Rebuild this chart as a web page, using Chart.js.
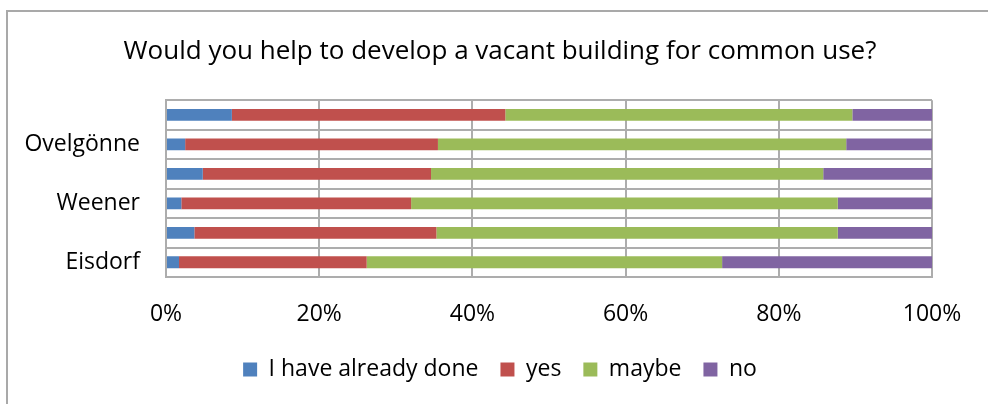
<!DOCTYPE html>
<html>
<head>
<meta charset="utf-8">
<script src="https://cdn.jsdelivr.net/npm/chart.js@4.4.1/dist/chart.umd.min.js"></script>
<style>
  html, body { margin: 0; padding: 0; background: #fff; }
  #wrap { position: relative; width: 988px; height: 404px; }
</style>
</head>
<body>
<div id="wrap"><canvas id="chart" width="988" height="404"></canvas></div>
<script>
// survey answers per town, percent of respondents (top row first)
const towns = ['', 'Ovelgönne', '', 'Weener', '', 'Eisdorf'];
const alreadyDone = [8.6, 2.5, 4.8, 2.0, 3.7, 1.7];
const yes = [35.7, 33.0, 29.8, 30.0, 31.6, 24.5];
const maybe = [45.3, 53.3, 51.2, 55.7, 52.4, 46.4];
const no = [10.4, 11.2, 14.2, 12.3, 12.3, 27.4];
const pctTicks = [0, 20, 40, 60, 80, 100];

const FONT = "'Open Sans', sans-serif";
const GRID = '#ADADAD';

// grey frame round the chart (left and top edges only are visible)
const frame = {
    id: 'frame',
    beforeDraw(chart) {
        const c = chart.ctx;
        c.save();
        c.strokeStyle = '#A9A9A9';
        c.lineWidth = 2;
        c.beginPath();
        c.moveTo(7, 404);
        c.lineTo(7, 11);
        c.lineTo(988, 11);
        c.stroke();
        c.restore();
    }
};

new Chart(document.getElementById('chart'), {
    type: 'bar',
    data: {
        labels: towns,
        datasets: [
            { label: 'I have already done', data: alreadyDone, backgroundColor: '#4F81BD' },
            { label: 'yes', data: yes, backgroundColor: '#C0504D' },
            { label: 'maybe', data: maybe, backgroundColor: '#9BBB59' },
            { label: 'no', data: no, backgroundColor: '#8064A2' }
        ]
    },
    options: {
        indexAxis: 'y',
        responsive: false,
        animation: false,
        barPercentage: 0.4,
        categoryPercentage: 1,
        layout: { padding: { left: 12, right: 0, top: 0, bottom: 13 } },
        scales: {
            x: {
                stacked: true,
                min: 0,
                max: 100,
                afterBuildTicks: s => { s.ticks = pctTicks.map(v => ({ value: v })); },
                afterFit: s => { s.height = 59; },
                grid: { color: GRID, lineWidth: 2, drawTicks: false },
                border: { color: GRID, width: 2 },
                ticks: {
                    padding: 24,
                    color: '#000',
                    font: { family: FONT, size: 23 },
                    callback: v => v + '%'
                }
            },
            y: {
                stacked: true,
                afterFit: s => { s.width = 154; },
                grid: { color: GRID, lineWidth: 2, drawTicks: false, offset: true },
                border: { color: GRID, width: 2 },
                ticks: {
                    autoSkip: false,
                    padding: 26,
                    color: '#000',
                    font: { family: FONT, size: 23 }
                }
            },
            // empty strip on the right so the plot stops short of the edge
            pad: {
                type: 'linear',
                position: 'right',
                afterFit: s => { s.width = 56; },
                grid: { display: false },
                border: { display: false },
                ticks: { display: false }
            }
        },
        plugins: {
            title: {
                display: true,
                text: 'Would you help to develop a vacant building for common use?',
                color: '#000',
                font: { family: FONT, size: 26, weight: 'normal', lineHeight: 1.2 },
                padding: { top: 36, bottom: 33 }
            },
            legend: {
                position: 'bottom',
                labels: {
                    boxWidth: 14,
                    boxHeight: 14,
                    padding: 22,
                    color: '#000',
                    font: { family: FONT, size: 23 }
                }
            },
            tooltip: { enabled: false }
        }
    },
    plugins: [frame]
});
</script>
</body>
</html>
